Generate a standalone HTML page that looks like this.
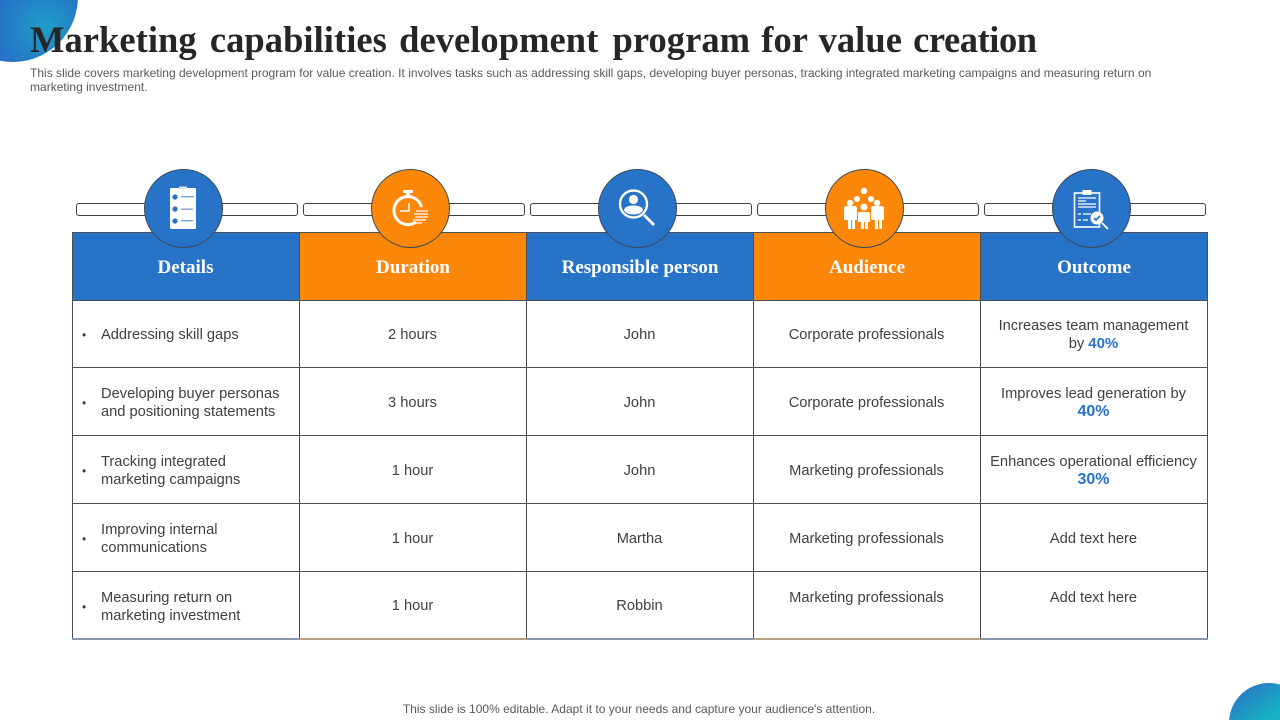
<!DOCTYPE html>
<html lang="en">
<head>
<meta charset="utf-8">
<title>Marketing capabilities development program</title>
<style>
html,body{margin:0;padding:0;background:#fff}
#slide{position:relative;width:1280px;height:720px;overflow:hidden;background:#fff;font-family:"Liberation Sans",sans-serif;color:#404040}
#slide>*{position:absolute}
.title{left:30px;top:19px;margin:0;font:bold 36.5px/42px "Liberation Serif",serif;color:#262626;letter-spacing:.05px;word-spacing:3px;white-space:nowrap}
.title span{position:relative}
.sub{left:30px;top:66px;width:1200px;font-size:12px;line-height:14px;color:#595959;margin:0;letter-spacing:.01px}
.foot{left:0;width:1278px;top:702px;text-align:center;font-size:12px;line-height:14px;color:#595959;letter-spacing:.012px}
.pill{top:202.5px;width:220px;height:11.5px;border:1px solid #404040;border-radius:3px;background:#fff}
.hd{top:232px;height:68px;font:bold 19px/72px "Liberation Serif",serif;color:#fff;text-align:center;box-sizing:border-box;white-space:nowrap;padding-right:1px}
.blue{background:#2673c8}.orange{background:#fd8708}
.ln{background:#4a4f55}
.h{left:72px;width:1136px;height:1px}
.v{top:232px;width:1px;height:408px}
.c{width:227px;height:68px;display:flex;align-items:center;justify-content:center;text-align:center;font-size:14.67px;line-height:18px;box-sizing:border-box;padding:2px 6px 0}
.d{justify-content:flex-start;text-align:left;padding:2px 8px 0 29px;left:72px}
.d:before{content:"•";position:absolute;left:10px;font-size:12px}
b.k{color:#2673c8;font-size:15px}
.circle{top:169px;width:77px;height:77px;border-radius:50%;border:1px solid #3d4a58;box-sizing:content-box}
.icon{top:180px;width:56px;height:56px}
</style>
</head>
<body>
<div id="slide">
<svg style="left:0;top:0" width="78" height="62" viewBox="0 0 78 62">
<defs><radialGradient id="ga" gradientUnits="userSpaceOnUse" cx="45" cy="28" r="50"><stop offset="0" stop-color="#1f9ec8"/><stop offset="1" stop-color="#2671c6"/></radialGradient></defs>
<path d="M0 0L77.9 0A65 65 0 0 1 0 60.7Z" fill="url(#ga)"/>
</svg>
<svg style="left:1229px;top:683px" width="51" height="37" viewBox="0 0 51 37">
<defs><linearGradient id="gb" x1="0" y1="0" x2="1" y2="1"><stop offset="0.1" stop-color="#2a72c4"/><stop offset="0.85" stop-color="#18b0c4"/></linearGradient></defs>
<path d="M0.1 37A40 40 0 0 1 51 1.54L51 37Z" fill="url(#gb)"/>
</svg>
<h1 class="title">Marketing <span style="left:1px">capabilities</span> <span style="left:1px">development</span> <span style="left:3px">program</span> <span style="left:2px">for</span> <span style="left:1px">value</span> <span style="letter-spacing:-.45px">creation</span></h1>
<p class="sub">This slide covers marketing development program for value creation. It involves tasks such as addressing skill gaps, developing buyer personas, tracking integrated marketing campaigns and measuring return on<br>marketing investment.</p>

<div class="pill" style="left:75.5px"></div>
<div class="pill" style="left:302.5px"></div>
<div class="pill" style="left:529.5px"></div>
<div class="pill" style="left:756.5px"></div>
<div class="pill" style="left:983.5px"></div>

<div class="hd blue" style="left:72px;width:228px">Details</div>
<div class="hd orange" style="left:300px;width:227px">Duration</div>
<div class="hd blue" style="left:527px;width:227px">Responsible person</div>
<div class="hd orange" style="left:754px;width:227px">Audience</div>
<div class="hd blue" style="left:981px;width:227px">Outcome</div>

<div class="ln h" style="top:232px"></div>
<div class="ln h" style="top:300px"></div>
<div class="ln h" style="top:367px"></div>
<div class="ln h" style="top:435px"></div>
<div class="ln h" style="top:503px"></div>
<div class="ln h" style="top:571px"></div>
<div class="ln v" style="left:72px"></div>
<div class="ln v" style="left:299px"></div>
<div class="ln v" style="left:526px"></div>
<div class="ln v" style="left:753px"></div>
<div class="ln v" style="left:980px"></div>
<div class="ln v" style="left:1207px"></div>
<div style="left:72px;top:638px;width:228px;height:2px;background:#8896b0"></div>
<div style="left:300px;top:638px;width:227px;height:2px;background:#b8a080"></div>
<div style="left:527px;top:638px;width:227px;height:2px;background:#8896b0"></div>
<div style="left:754px;top:638px;width:227px;height:2px;background:#b8a080"></div>
<div style="left:981px;top:638px;width:227px;height:2px;background:#8896b0"></div>

<!-- Row 1 -->
<div class="c d" style="top:300px">Addressing skill gaps</div>
<div class="c" style="left:299px;top:300px">2 hours</div>
<div class="c" style="left:526px;top:300px">John</div>
<div class="c" style="left:753px;top:300px">Corporate professionals</div>
<div class="c" style="left:980px;top:300px"><span>Increases team management<br>by <b class="k">40%</b></span></div>
<!-- Row 2 -->
<div class="c d" style="top:368px">Developing buyer personas and positioning statements</div>
<div class="c" style="left:299px;top:368px">3 hours</div>
<div class="c" style="left:526px;top:368px">John</div>
<div class="c" style="left:753px;top:368px">Corporate professionals</div>
<div class="c" style="left:980px;top:368px"><span>Improves lead generation by<br><b class="k" style="font-size:16px">40%</b></span></div>
<!-- Row 3 -->
<div class="c d" style="top:436px">Tracking integrated<br>marketing campaigns</div>
<div class="c" style="left:299px;top:436px">1 hour</div>
<div class="c" style="left:526px;top:436px">John</div>
<div class="c" style="left:753px;top:436px">Marketing professionals</div>
<div class="c" style="left:980px;top:436px;padding:2px 0 0"><span>Enhances operational efficiency<br><b class="k" style="font-size:16px">30%</b></span></div>
<!-- Row 4 -->
<div class="c d" style="top:504px">Improving internal<br>communications</div>
<div class="c" style="left:299px;top:504px">1 hour</div>
<div class="c" style="left:526px;top:504px">Martha</div>
<div class="c" style="left:753px;top:504px">Marketing professionals</div>
<div class="c" style="left:980px;top:504px">Add text here</div>
<!-- Row 5 -->
<div class="c d" style="top:572px">Measuring return on<br>marketing investment</div>
<div class="c" style="left:299px;top:571px">1 hour</div>
<div class="c" style="left:526px;top:571px">Robbin</div>
<div class="c" style="left:753px;top:563px">Marketing professionals</div>
<div class="c" style="left:980px;top:563px">Add text here</div>

<!-- Circles -->
<div class="circle blue" style="left:144px"></div>
<div class="circle orange" style="left:371px"></div>
<div class="circle blue" style="left:598px"></div>
<div class="circle orange" style="left:825px"></div>
<div class="circle blue" style="left:1052px"></div>

<!-- Details icon -->
<svg class="icon" style="left:155px" viewBox="0 0 56 56">
<rect x="15" y="8" width="26" height="41" rx="1.5" fill="#fff"/><rect x="24" y="6.5" width="8" height="3" fill="#dce8f6"/>
<g fill="#2673c8"><circle cx="20" cy="17" r="2.6"/><circle cx="20" cy="29" r="2.6"/><circle cx="20" cy="41" r="2.6"/></g>
<g fill="#6f9fd8"><rect x="26" y="16" width="13" height="1.3"/><rect x="26" y="28.5" width="12" height="1.3"/><rect x="26" y="40" width="12" height="1.3"/></g>
</svg>
<!-- Duration icon -->
<svg class="icon" style="left:382px" viewBox="0 0 56 56" fill="none" stroke="#fff">
<path d="M34 42 A14 14 0 1 1 39.5 27" stroke-width="3"/>
<path d="M26 16v-3" stroke-width="4"/><path d="M21 11.5h10" stroke-width="3"/>
<path d="M27 23v8h-9" stroke-width="1.6"/>
<path d="M34 31h12M32 34h14M33 37h13M31 40h13M31 43h9" stroke-width="1.3"/>
</svg>
<!-- Person search icon -->
<svg class="icon" style="left:609px" viewBox="0 0 56 56">
<circle cx="24.5" cy="24" r="13.5" fill="none" stroke="#fff" stroke-width="2.4"/>
<circle cx="24.5" cy="19.5" r="4.6" fill="#fff"/><path d="M15 30 C16 24 33 24 34 30 C32 36 17 36 15 30Z" fill="#fff"/>
<path d="M35 35 L45 45" stroke="#fff" stroke-width="2.8"/>
</svg>
<!-- Audience icon -->
<svg class="icon" style="left:836px" viewBox="0 0 56 56" fill="#fff">
<circle cx="28" cy="11" r="3.2"/><circle cx="21" cy="19" r="3"/><circle cx="35" cy="19" r="3"/>
<circle cx="14" cy="23" r="3.2"/><circle cx="41" cy="23" r="3.2"/><circle cx="28" cy="27" r="3.5"/>
<path d="M8 28q0-2 3-2h7q3 0 3 2v12h-2v9h-3v-9h-1v9h-3v-9h-4z"/>
<path d="M35 28q0-2 3-2h7q3 0 3 2v12h-2v9h-3v-9h-1v9h-3v-9h-4z"/>
<path d="M22 34q0-2 2-2h8q2 0 2 2v8h-2v7h-3v-7h-1v7h-3v-7h-3z"/>
</svg>
<!-- Outcome icon -->
<svg class="icon" style="left:1063px" viewBox="0 0 56 56">
<rect x="11.5" y="13" width="25" height="34" fill="none" stroke="#fff" stroke-width="1.6"/>
<rect x="19.5" y="10" width="9" height="5" fill="#fff"/>
<path d="M15 18h18M15 21h8M15 24h18M15 27h18M15 34h3M20 34h8M15 40h3M20 40h5" stroke="#fff" stroke-width="1.2"/>
<circle cx="34" cy="38" r="6.5" fill="#fff"/><path d="M31 38l2 2 4-4" stroke="#2673c8" stroke-width="1.8" fill="none"/>
<path d="M39 43l6 6" stroke="#fff" stroke-width="1.8"/>
</svg>

<div class="foot">This slide is 100% editable. Adapt it to your needs and capture your audience's attention.</div>
</div>
</body>
</html>
